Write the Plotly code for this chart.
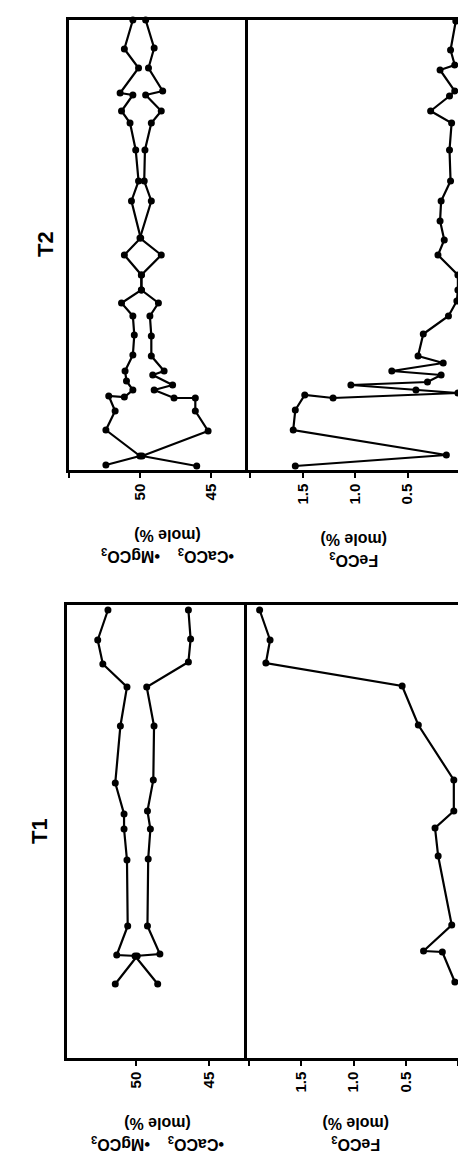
import plotly.graph_objects as go

W, H = 466, 1154

# ---------------- data (position along traverse, composition in mole %) ----------------
# Traverse T2 (upper panel)
t2_ca_pos = [0, 29, 48, 73, 75, 91, 103, 130, 161, 181, 218, 235, 255, 270, 283, 296, 315, 335, 351, 361, 370, 377, 376, 391, 410, 436, 445]
t2_ca_val = [50.5, 51.1, 50.1, 51.4, 50.5, 51.3, 50.7, 50.3, 50.1, 50.6, 49.95, 51.1, 49.9, 49.9, 51.3, 50.5, 50.4, 50.5,
             51.05, 50.95, 50.5, 51.1, 52.2, 51.75, 52.4, 50.0, 52.4]
t2_mg_pos = [0, 28, 48, 71, 75, 91, 103, 130, 161, 181, 218, 235, 255, 270, 283, 296, 316, 336, 351, 355, 365, 370, 378, 378, 391, 411, 436, 446]
t2_mg_val = [49.6, 49.0, 49.4, 48.4, 49.6, 48.5, 49.2, 49.65, 49.7, 49.2, 50.0, 48.5, 49.9, 49.9, 48.7, 49.3, 49.2, 49.2,
             48.3, 49.1, 47.7, 49.0, 47.6, 46.1, 46.1, 45.2, 49.85, 46.0]
t2_fe_pos = [1, 30, 45, 50, 71, 76, 91, 103, 130, 161, 181, 201, 220, 235, 255, 270, 281, 296, 314, 336, 343, 351, 355,
             362, 365, 370, 373, 378, 375, 390, 410, 435, 446]
t2_fe_val = [0.04, 0.09, 0.05, 0.19, 0.05, 0.10, 0.28, 0.08, 0.10, 0.09, 0.18, 0.19, 0.15, 0.21, 0.02, 0.02, 0.03, 0.11,
             0.35, 0.40, 0.16, 0.65, 0.18, 0.31, 1.04, 0.42, 0.02, 1.21, 1.48, 1.57, 1.59, 0.13, 1.57]

# Traverse T1 (lower panel)
t1_ca_pos = [5, 35, 59, 82, 121, 178, 209, 224, 255, 321, 350, 351, 379]
t1_ca_val = [51.9, 52.6, 52.25, 50.6, 51.05, 51.4, 50.8, 50.8, 50.6, 50.55, 51.3, 49.9, 51.4]
t1_mg_pos = [5, 34, 57, 82, 121, 175, 206, 224, 254, 321, 349, 351, 379]
t1_mg_val = [46.4, 46.25, 46.4, 49.25, 48.75, 48.8, 49.2, 49.0, 49.15, 49.2, 48.35, 50.05, 48.5]
t1_fe_pos = [5, 35, 58, 81, 120, 175, 206, 223, 251, 320, 346, 347, 377]
t1_fe_val = [1.90, 1.80, 1.84, 0.535, 0.38, 0.04, 0.04, 0.22, 0.19, 0.06, 0.33, 0.15, 0.03]

# axis ticks
camg_tickvals = [50, 45]
camg_ticktext = ["50", "45"]
camg_minor = [55]
fe_tickvals = [1.5, 1.0, 0.5]
fe_ticktext = ["1.5", "1.0", "0.5"]
fe_minor = [2.0, 0.0]

panel_titles = ["T2", "T1"]
camg_title = "•CaCO<sub>3</sub>    •MgCO<sub>3</sub><br>(mole %)"
fe_title = "FeCO<sub>3</sub><br>(mole %)"

# ---------------- figure ----------------
FONT = "Liberation Sans, Arial, sans-serif"


def px_x(p):
    return p / W


def px_y(p):
    return 1 - p / H


fig = go.Figure()

line_style = dict(color="black", width=2.2)
marker_style = dict(color="black", size=7, symbol="circle")


def add_series(pos, val, xa, ya):
    fig.add_trace(go.Scatter(x=val, y=pos, mode="lines+markers", line=line_style, marker=marker_style,
                             xaxis=xa, yaxis=ya, showlegend=False, cliponaxis=False, hoverinfo="skip"))


add_series(t2_ca_pos, t2_ca_val, "x", "y")
add_series(t2_mg_pos, t2_mg_val, "x", "y")
add_series(t2_fe_pos, t2_fe_val, "x2", "y2")
add_series(t1_ca_pos, t1_ca_val, "x3", "y3")
add_series(t1_mg_pos, t1_mg_val, "x3", "y3")
add_series(t1_fe_pos, t1_fe_val, "x4", "y4")

tickfont = dict(family=FONT, size=15, color="black", weight="bold")


def xaxis(dom, rng, tv, tt, mv, anchor):
    return dict(domain=dom, range=rng, tickmode="array", tickvals=tv, ticktext=tt, ticks="outside", ticklen=5,
                tickwidth=2, tickcolor="black", tickangle=-90, tickfont=tickfont,
                minor=dict(tickmode="array", tickvals=mv, ticks="outside", ticklen=5, tickwidth=2,
                           tickcolor="black", showgrid=False),
                showline=True, linewidth=2.5, linecolor="black", mirror=True, showgrid=False, zeroline=False,
                anchor=anchor, fixedrange=True)


def yaxis(dom, rng, anchor, side, mirror):
    return dict(domain=dom, range=rng, showticklabels=False, ticks="", showline=True, linewidth=2.5,
                linecolor="black", mirror=mirror, side=side, showgrid=False, zeroline=False, anchor=anchor,
                fixedrange=True)


t2_ydom = [px_y(462), px_y(12)]
t1_ydom = [px_y(1050), px_y(597)]

fig.update_layout(
    width=W, height=H, autosize=False,
    margin=dict(l=0, r=0, t=0, b=0),
    paper_bgcolor="white", plot_bgcolor="white",
    xaxis=xaxis([px_x(61), px_x(237)], [55.0, 42.6], camg_tickvals, camg_ticktext, camg_minor, "y"),
    yaxis=yaxis(t2_ydom, [450, 0], "x", "left", True),
    xaxis2=xaxis([px_x(238), px_x(452)], [2.04, 0.0], fe_tickvals, fe_ticktext, fe_minor, "y2"),
    yaxis2=yaxis(t2_ydom, [450, 0], "x2", "right", False),
    xaxis3=xaxis([px_x(59), px_x(236)], [54.7, 42.6], camg_tickvals, camg_ticktext, camg_minor, "y3"),
    yaxis3=yaxis(t1_ydom, [453, 0], "x3", "left", True),
    xaxis4=xaxis([px_x(237), px_x(450)], [2.04, 0.0], fe_tickvals, fe_ticktext, fe_minor, "y4"),
    yaxis4=yaxis(t1_ydom, [453, 0], "x4", "right", False),
)

lab_font = dict(family=FONT, size=16, color="black", weight="bold")
title_font = dict(family=FONT, size=22, color="black", weight="bold")

annots = [
    dict(text=panel_titles[0], x=px_x(37), y=px_y(236), textangle=-90, font=title_font),
    dict(text=panel_titles[1], x=px_x(31), y=px_y(823), textangle=-90, font=title_font),
    dict(text=camg_title, x=px_x(160), y=px_y(538), textangle=180, font=lab_font),
    dict(text=fe_title, x=px_x(346), y=px_y(542), textangle=180, font=lab_font),
    dict(text=camg_title, x=px_x(150), y=px_y(1126), textangle=180, font=lab_font),
    dict(text=fe_title, x=px_x(348), y=px_y(1126), textangle=180, font=lab_font),
]
for a in annots:
    fig.add_annotation(xref="paper", yref="paper", showarrow=False, xanchor="center", yanchor="middle", **a)

fig.write_html("out.html", config={"displayModeBar": False})
